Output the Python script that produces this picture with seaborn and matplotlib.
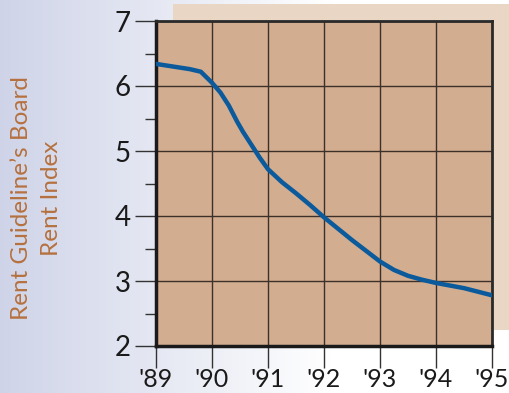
import numpy as np
import pandas as pd
import matplotlib
matplotlib.use("Agg")
import matplotlib.pyplot as plt
import seaborn as sns
from matplotlib.patches import Rectangle
from matplotlib.ticker import MultipleLocator

years = [89.0, 89.3, 89.6, 89.8, 90.0, 90.15, 90.3, 90.45, 90.55, 90.7, 90.85, 91.0, 91.25, 91.5, 91.75, 92.0, 92.5, 93.0, 93.25, 93.5, 93.75, 94.0, 94.5, 95.0]
index = [6.34, 6.30, 6.26, 6.22, 6.05, 5.90, 5.70, 5.45, 5.30, 5.10, 4.90, 4.72, 4.52, 4.35, 4.17, 3.98, 3.63, 3.30, 3.17, 3.08, 3.02, 2.97, 2.89, 2.78]
xtick_vals = [89, 90, 91, 92, 93, 94, 95]
xtick_labels = ["'89", "'90", "'91", "'92", "'93", "'94", "'95"]
ytick_vals = [2, 3, 4, 5, 6, 7]

df = pd.DataFrame({"year": years, "index": index})

sns.set_theme(style="white")
plt.rcParams['font.family'] = ['Lato', 'DejaVu Sans']

W, H = 509, 393
fig = plt.figure(figsize=(W / 100, H / 100), dpi=100)

# background gradient
bg = fig.add_axes([0, 0, 1, 1], zorder=-10)
grad = np.linspace(0, 1, 256)
c0 = np.array([0.81, 0.83, 0.91])
c1 = np.array([1.0, 1.0, 1.0])
t = np.clip(grad / 0.65, 0, 1)
img = c0[None, :] * (1 - t[:, None]) + c1[None, :] * t[:, None]
bg.imshow(img[None, :, :], aspect='auto', extent=[0, 1, 0, 1])
bg.add_patch(Rectangle((173 / W, 1 - 330 / H), (W - 173) / W, (330 - 4) / H,
                       facecolor='#e9d6c5', edgecolor='none'))
bg.set_xlim(0, 1); bg.set_ylim(0, 1)
bg.axis('off')

left, right, top, bottom = 156, 492, 21, 346
ax = fig.add_axes([left / W, 1 - bottom / H, (right - left) / W, (bottom - top) / H])
ax.set_facecolor('#d2ad8f')

sns.lineplot(data=df, x="year", y="index", ax=ax, color='#0b5a9c', linewidth=3.2,
             solid_capstyle='round', solid_joinstyle='round', zorder=5)

ax.set_xlim(89, 95)
ax.set_ylim(2, 7)
ax.set_xticks(xtick_vals)
ax.set_xticklabels(xtick_labels)
ax.set_yticks(ytick_vals)
ax.yaxis.set_minor_locator(MultipleLocator(0.5))
ax.grid(True, which='major', color='#3d3029', linewidth=1.0)
ax.set_axisbelow(True)
ax.tick_params(axis='y', which='major', direction='out', length=15, width=1.0,
               color='#333333', labelsize=20, pad=3, left=True, labelcolor='#1a1a1a')
ax.tick_params(axis='y', which='minor', direction='out', length=8, width=1.0,
               color='#333333', left=True)
ax.tick_params(axis='x', which='major', direction='out', length=16, width=1.0,
               color='#333333', labelsize=18, pad=0, bottom=True, labelcolor='#1a1a1a')
for side in ['left', 'bottom']:
    ax.spines[side].set_linewidth(2.5)
    ax.spines[side].set_color('#1a1a1a')
for side in ['top', 'right']:
    ax.spines[side].set_linewidth(2.0)
    ax.spines[side].set_color('#2a2a2a')
ax.set_xlabel("")
ax.set_ylabel("")

fig.text(22 / W, 1 - 198 / H, "Rent Guideline\u2019s Board", rotation=90, ha='center', va='center',
         fontsize=17.5, color='#b5713f')
fig.text(51 / W, 1 - 198 / H, "Rent Index", rotation=90, ha='center', va='center',
         fontsize=17.5, color='#b5713f')

fig.savefig("out.png", dpi=100)
